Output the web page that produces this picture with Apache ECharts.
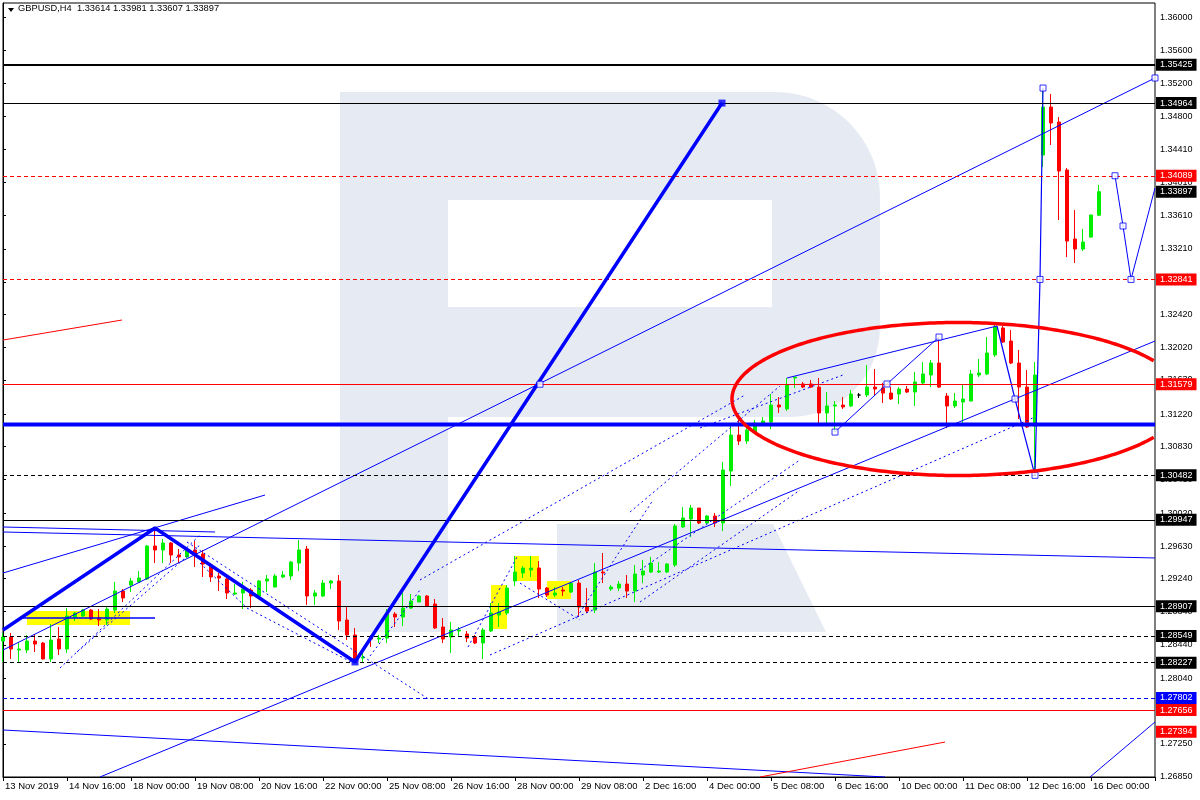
<!DOCTYPE html>
<html><head><meta charset="utf-8">
<script src="https://cdn.jsdelivr.net/npm/echarts@6/dist/echarts.min.js"></script>
<style>html,body{margin:0;padding:0;background:#fff}#c{width:1200px;height:800px}</style>
</head><body><div id="c"></div>
<script>
const symbolName = 'GBPUSD,H4';
const timeLabels = ['13 Nov 2019','14 Nov 16:00','18 Nov 00:00','19 Nov 08:00','20 Nov 16:00','22 Nov 00:00','25 Nov 08:00','26 Nov 16:00','28 Nov 00:00','29 Nov 08:00','2 Dec 16:00','4 Dec 00:00','5 Dec 08:00','6 Dec 16:00','10 Dec 00:00','11 Dec 08:00','12 Dec 16:00','16 Dec 00:00'];
const opens = [1.28487,1.28535,1.28379,1.28379,1.28487,1.28463,1.28271,1.28511,1.28391,1.28776,1.28788,1.28860,1.28764,1.28740,1.28860,1.29089,1.29161,1.29198,1.29234,1.29631,1.29583,1.29667,1.29523,1.29499,1.29583,1.29535,1.29402,1.29270,1.29234,1.29053,1.29065,1.29101,1.29029,1.29210,1.29137,1.29258,1.29270,1.29426,1.29595,1.29029,1.29029,1.29185,1.29210,1.28740,1.28560,1.28283,1.28535,1.28511,1.28523,1.28812,1.28776,1.28884,1.28957,1.29029,1.28933,1.28656,1.28535,1.28608,1.28572,1.28535,1.28463,1.28608,1.28800,1.28824,1.29210,1.29306,1.29342,1.29366,1.29125,1.29041,1.29101,1.29077,1.29185,1.28896,1.28860,1.29318,1.29113,1.29125,1.29173,1.29089,1.29282,1.29318,1.29318,1.29318,1.29402,1.29860,1.29956,1.30088,1.29908,1.29992,1.29908,1.30534,1.30967,1.30895,1.31003,1.31112,1.31124,1.31329,1.31281,1.31654,1.31582,1.31582,1.31545,1.31233,1.31317,1.31329,1.31317,1.31449,1.31449,1.31545,1.31533,1.31473,1.31461,1.31521,1.31485,1.31594,1.31690,1.31834,1.31437,1.31317,1.31365,1.31377,1.31690,1.31702,1.31931,1.32256,1.32099,1.31834,1.31545,1.31076,1.34339,1.34916,1.34736,1.34158,1.33327,1.33207,1.33351,1.33614];
const closes = [1.28535,1.28391,1.28391,1.28487,1.28451,1.28271,1.28499,1.28391,1.28788,1.28824,1.28860,1.28752,1.28740,1.28872,1.29089,1.29005,1.29210,1.29246,1.29631,1.29583,1.29667,1.29523,1.29499,1.29583,1.29523,1.29414,1.29258,1.29246,1.29065,1.29065,1.29113,1.29029,1.29210,1.29234,1.29270,1.29282,1.29438,1.29583,1.29029,1.29065,1.29185,1.29210,1.28728,1.28560,1.28271,1.28295,1.28511,1.28523,1.28812,1.28776,1.28884,1.28969,1.29029,1.28909,1.28644,1.28511,1.28620,1.28620,1.28523,1.28463,1.28620,1.28824,1.28836,1.29125,1.29318,1.29366,1.29366,1.29113,1.29041,1.29065,1.29089,1.29185,1.28896,1.28848,1.29318,1.29306,1.29137,1.29173,1.29089,1.29294,1.29330,1.29426,1.29330,1.29414,1.29872,1.29968,1.30088,1.29908,1.29992,1.29908,1.30546,1.30967,1.30895,1.31027,1.31112,1.31136,1.31329,1.31305,1.31570,1.31666,1.31545,1.31545,1.31233,1.31317,1.31329,1.31305,1.31461,1.31449,1.31545,1.31521,1.31473,1.31401,1.31521,1.31485,1.31606,1.31702,1.31834,1.31545,1.31317,1.31377,1.31401,1.31702,1.31714,1.31955,1.32268,1.32087,1.31834,1.31545,1.31064,1.31690,1.34916,1.34724,1.34146,1.33303,1.33207,1.33291,1.33616,1.33897];
const lows = [1.28235,1.28271,1.28223,1.28343,1.28355,1.28265,1.28235,1.28319,1.28343,1.28728,1.28776,1.28740,1.28668,1.28680,1.28824,1.28957,1.29077,1.29190,1.29222,1.29426,1.29426,1.29426,1.29426,1.29490,1.29378,1.29258,1.29198,1.29089,1.28993,1.29041,1.28872,1.28884,1.29017,1.29077,1.29137,1.29246,1.29222,1.29330,1.28921,1.28921,1.29017,1.29113,1.28620,1.28499,1.28235,1.28235,1.28415,1.28463,1.28463,1.28656,1.28668,1.28872,1.28957,1.28896,1.28632,1.28463,1.28343,1.28535,1.28475,1.28451,1.28271,1.28596,1.28656,1.28800,1.29149,1.29246,1.29258,1.29005,1.29017,1.29017,1.29029,1.29065,1.28776,1.28824,1.28824,1.29185,1.29089,1.29089,1.29005,1.28957,1.29185,1.29306,1.29306,1.29306,1.29378,1.29848,1.29739,1.29896,1.29896,1.29860,1.29812,1.30353,1.30847,1.30859,1.30991,1.31100,1.31040,1.31233,1.31257,1.31533,1.31533,1.31533,1.31100,1.31100,1.31003,1.31281,1.31305,1.31413,1.31425,1.31449,1.31353,1.31389,1.31341,1.31473,1.31317,1.31582,1.31545,1.31533,1.31052,1.31293,1.31100,1.31370,1.31666,1.31690,1.31907,1.32075,1.31822,1.31160,1.31052,1.30482,1.34194,1.34459,1.33556,1.33110,1.33038,1.33183,1.33340,1.33607];
const highs = [1.28584,1.28584,1.28475,1.28560,1.28572,1.28475,1.28692,1.28656,1.28884,1.28836,1.28872,1.28872,1.28872,1.28909,1.29198,1.29113,1.29246,1.29330,1.29643,1.29848,1.29715,1.29679,1.29595,1.29619,1.29691,1.29583,1.29426,1.29306,1.29294,1.29173,1.29198,1.29125,1.29222,1.29282,1.29294,1.29330,1.29450,1.29703,1.29631,1.29101,1.29222,1.29222,1.29282,1.28896,1.28644,1.28355,1.28560,1.28560,1.28872,1.28836,1.29125,1.29053,1.29041,1.29041,1.28993,1.28764,1.28716,1.28656,1.28608,1.28560,1.28644,1.28945,1.28945,1.29161,1.29511,1.29390,1.29511,1.29450,1.29137,1.29137,1.29137,1.29198,1.29222,1.29125,1.29426,1.29547,1.29161,1.29210,1.29282,1.29402,1.29462,1.29499,1.29438,1.29426,1.29896,1.30100,1.30125,1.30088,1.30004,1.30028,1.30642,1.31088,1.31160,1.31052,1.31148,1.31184,1.31461,1.31425,1.31654,1.31666,1.31606,1.31630,1.31654,1.31485,1.31377,1.31425,1.31509,1.31473,1.31810,1.31762,1.31594,1.31545,1.31545,1.31557,1.31726,1.31846,1.31870,1.32147,1.31473,1.31473,1.31570,1.31750,1.31883,1.32147,1.32316,1.32280,1.32232,1.31991,1.31750,1.31846,1.35109,1.35073,1.34796,1.34182,1.33676,1.33448,1.33620,1.33981];
const dojiBars = [107];
const yTickValues = [1.2685,1.2725,1.2765,1.2804,1.2844,1.2884,1.2924,1.2963,1.3002,1.3043,1.3083,1.3122,1.3163,1.3202,1.3242,1.3281,1.3321,1.3361,1.3401,1.3441,1.3480,1.3520,1.3560,1.3600];
const levelPrices = [1.35425,1.34964,1.34089,1.32841,1.31579,1.30482,1.29947,1.28907,1.28549,1.28227,1.27802,1.27656,1.27394,1.33897];
const supportLevel = 1.31095;
// trend objects: [bar index, price]
const zigzagMain = [[0,1.28620],[19,1.29848],[44,1.28235],[89.875,1.34964]];
const trendLong = [[0,1.28379],[144,1.35266]];
const trendLow = [[12.125,1.26850],[144,1.32099]];
const trendLeft = [[0,1.29306],[32.75,1.30245]];
const trendFlat = [[0,1.29800],[144,1.29487]];
const trendFlatShort = [[0,1.29860],[26.5,1.29800]];
const trendBottom = [[0,1.27416],[110.25,1.26850]];
const trendBottomRight = [[135.875,1.26850],[144,1.27512]];
const redTopLeft = [[0,1.32111],[14.875,1.32352]];
const redBottom = [[94.625,1.26850],[117.75,1.27271]];
const channelTop = [[98,1.31654],[124.25,1.32280]];
const wavePath1 = [[104,1.31003],[110.5,1.31582],[117,1.32147]];
const wavePath2 = [[124.25,1.32280],[126.5,1.31401],[129,1.30482],[129.625,1.32841],[130,1.35145]];
const forecastPath = [[139,1.34089],[140,1.33484],[141,1.32841],[144,1.33941]];
const rangeLine = [[2.375,1.28764],[19,1.28764]];
const dottedLines = [
  [[7.125,1.28162],[24.625,1.29763]],
  [[9.25,1.28355],[24.625,1.29643]],
  [[23,1.29679],[53.375,1.27777]],
  [[24.625,1.29426],[30.5,1.28884],[43.75,1.28223]],
  [[45.875,1.28307],[52.125,1.29101]],
  [[58.125,1.28415],[64.25,1.29499]],
  [[64.625,1.29185],[72.125,1.28740]],
  [[71.75,1.28776],[81.25,1.30185]],
  [[52.125,1.29222],[92.75,1.31449]],
  [[60.875,1.28319],[129,1.31184]],
  [[78.375,1.30040],[97.125,1.31558]],
  [[79.625,1.28957],[99.625,1.30305]],
  [[79.625,1.29342],[99.625,1.30667]],
  [[87.125,1.31052],[105,1.31690]]
];
const hollowPoints = [[67.125,1.31579],[104,1.31003],[110.5,1.31582],[117,1.32147],[126.5,1.31401],[129,1.30482],[129.625,1.32841],[130,1.35145],[139,1.34089],[140,1.33484],[141,1.32841],[144,1.35266]];
const solidPoints = [[44,1.28235],[89.875,1.34964]];
const yellowZones = [[3,1.28848,15.875,1.28680],[61,1.29161,63,1.28632],[64,1.29511,67,1.29210],[68,1.29210,71,1.28993]];
const ellipseShape = [[119.375,1.31401,28.25,0.00921]];

const FONT = 'Liberation Sans, Arial, sans-serif';
const BLUE = '#0000ff';
const levelStyles = [
  {c:'#000',w:2,t:'solid',bg:'#000'},
  {c:'#000',w:1,t:'solid',bg:'#000'},
  {c:'#ff0000',w:1,t:[4,3],bg:'#ff0000'},
  {c:'#ff0000',w:1,t:[4,3],bg:'#ff0000'},
  {c:'#ff0000',w:1,t:'solid',bg:'#ff0000'},
  {c:'#000',w:1,t:[4,3],bg:'#000'},
  {c:'#000',w:1,t:'solid',bg:'#000'},
  {c:'#000',w:1,t:'solid',bg:'#000'},
  {c:'#000',w:1,t:[4,3],bg:'#000'},
  {c:'#000',w:1,t:[4,3],bg:'#000'},
  {c:BLUE,w:1,t:[4,3],bg:BLUE},
  {c:'#ff0000',w:1,t:'solid',bg:'#ff0000'},
  {c:'rgba(0,0,0,0)',w:0,t:'solid',bg:'#ff0000'},
  {c:'rgba(0,0,0,0)',w:0,t:'solid',bg:'#000'}
];

const candleData = opens.map((o,i)=>{
  const item = {value:[i,o,closes[i],lows[i],highs[i]]};
  if (dojiBars.includes(i)) item.itemStyle = {color:'#000',color0:'#000',borderColor:'#000',borderColor0:'#000'};
  return item;
});
const last = opens.length-1;
const header = symbolName + '  ' + [opens[last],highs[last],lows[last],closes[last]].map(v=>v.toFixed(5)).join(' ');

function lineSeries(data, color, width, type, z){
  return {type:'line', data:data, showSymbol:false, silent:true, animation:false, z:z||4,
    lineStyle:{color:color, width:width, type:type||'solid'}, clip:true};
}

const chart = echarts.init(document.getElementById('c'), null, {renderer:'canvas'});
const WM = '#e6ebf3';
const option = {
  animation:false,
  backgroundColor:'#ffffff',
  textStyle:{fontFamily:FONT},
  grid:{left:3, right:45, top:3, bottom:23, show:true, borderColor:'#000', borderWidth:1, backgroundColor:'rgba(0,0,0,0)'},
  graphic:[
    {type:'rect', z:1, silent:true, shape:{x:340,y:92,width:108,height:540}, style:{fill:WM}},
    {type:'rect', z:1, silent:true, shape:{x:440,y:92,width:440,height:325,r:[0,105,90,0]}, style:{fill:WM}},
    {type:'rect', z:1, silent:true, shape:{x:448,y:200,width:324,height:107}, style:{fill:'#fff'}},
    {type:'polygon', z:1, silent:true, shape:{points:[[557,524],[773,524],[826,632],[557,632]]}, style:{fill:WM}},
    {type:'polygon', z:20, silent:true, shape:{points:[[8,8],[14,8],[11,12]]}, style:{fill:'#000'}},
    {type:'text', z:20, silent:true, left:18, top:4, style:{text:header, font:'9.3px '+FONT, fill:'#000'}}
  ],
  xAxis:{type:'value', min:0, max:144, interval:8,
    axisLine:{show:true, lineStyle:{color:'#000', width:1}},
    axisTick:{show:true, length:4, lineStyle:{color:'#000'}},
    axisLabel:{color:'#000', fontSize:9.5, fontFamily:FONT, align:'left', margin:4, padding:[0,0,0,2],
      formatter:(v)=>{const k=Math.round(v/8); return (v%8===0 && timeLabels[k])?timeLabels[k]:'';}},
    splitLine:{show:false}},
  yAxis:{type:'value', position:'right', min:1.2685, max:1.36169, scale:true,
    axisLine:{show:true, lineStyle:{color:'#000', width:1}},
    axisTick:{show:true, length:3, customValues:yTickValues, lineStyle:{color:'#000'}},
    axisLabel:{color:'#000', fontSize:9, fontFamily:FONT, margin:5, customValues:yTickValues, formatter:(v)=>v.toFixed(5)},
    splitLine:{show:false}},
  series:[
    {type:'line', data:[], z:1, silent:true,
      markArea:{silent:true, itemStyle:{color:'#ffff00'},
        data:yellowZones.map(r=>[{coord:[r[0],r[1]]},{coord:[r[2],r[3]]}])}},
    {type:'candlestick', z:2, data:candleData, barWidth:4, silent:true,
      dimensions:['x','open','close','lowest','highest'], encode:{x:0, y:[1,2,3,4]},
      itemStyle:{color:'#00ee00', color0:'#ff0000', borderColor:'#00ee00', borderColor0:'#ff0000', borderWidth:1}},
    {type:'line', data:[], z:3, silent:true,
      markLine:{silent:true, symbol:'none', animation:false, precision:5,
        data:levelPrices.map((p,i)=>({yAxis:p,
          lineStyle:{color:levelStyles[i].c, width:levelStyles[i].w, type:levelStyles[i].t},
          label:{show:true, position:'end', distance:1, formatter:p.toFixed(5), color:'#fff', backgroundColor:levelStyles[i].bg,
            padding:[2,4,1,4], fontSize:9, fontFamily:FONT}}))}},
    lineSeries([[0,supportLevel],[144,supportLevel]], BLUE, 4, 'solid', 3),
    lineSeries(trendLong, BLUE, 1),
    lineSeries(trendLow, BLUE, 1),
    lineSeries(trendLeft, BLUE, 1),
    lineSeries(trendFlat, BLUE, 1),
    lineSeries(trendFlatShort, BLUE, 1),
    lineSeries(trendBottom, BLUE, 1),
    lineSeries(trendBottomRight, BLUE, 1),
    lineSeries(redTopLeft, '#ff0000', 1),
    lineSeries(redBottom, '#ff0000', 1),
    lineSeries(channelTop, BLUE, 1),
    lineSeries(wavePath1, BLUE, 1),
    lineSeries(wavePath2, BLUE, 1.2),
    lineSeries(forecastPath, BLUE, 1),
    lineSeries(rangeLine, BLUE, 1.5),
    ...dottedLines.map(d=>lineSeries(d, BLUE, 1, [2,3])),
    lineSeries(zigzagMain, BLUE, 3.5, 'solid', 5),
    {type:'scatter', data:hollowPoints, symbol:'rect', symbolSize:6, z:6, silent:true,
      itemStyle:{color:'#fff', borderColor:BLUE, borderWidth:1}},
    {type:'scatter', data:solidPoints, symbol:'rect', symbolSize:7, z:6, silent:true,
      itemStyle:{color:BLUE}},
    {type:'custom', data:ellipseShape, z:7, silent:true, encode:{x:0,y:1},
      renderItem:(params, api)=>{
        const c = api.coord([api.value(0), api.value(1)]);
        const s = api.size([api.value(2), api.value(3)]);
        const cs = params.coordSys;
        const right = cs.x + cs.width;
        const segs = []; let cur = [];
        for (let k=0;k<=360;k++){
          const t = Math.PI + k*Math.PI/180;
          const x = c[0] + s[0]*Math.cos(t), y = c[1] + s[1]*Math.sin(t);
          if (x <= right){ cur.push([x,y]); } else if (cur.length){ segs.push(cur); cur=[]; }
        }
        if (cur.length) segs.push(cur);
        return {type:'group', children:segs.map(p=>({type:'polyline', shape:{points:p}, style:{stroke:'#ff0000', lineWidth:3.5, fill:null}}))};
      }}
  ]
};
chart.setOption(option);
</script></body></html>
